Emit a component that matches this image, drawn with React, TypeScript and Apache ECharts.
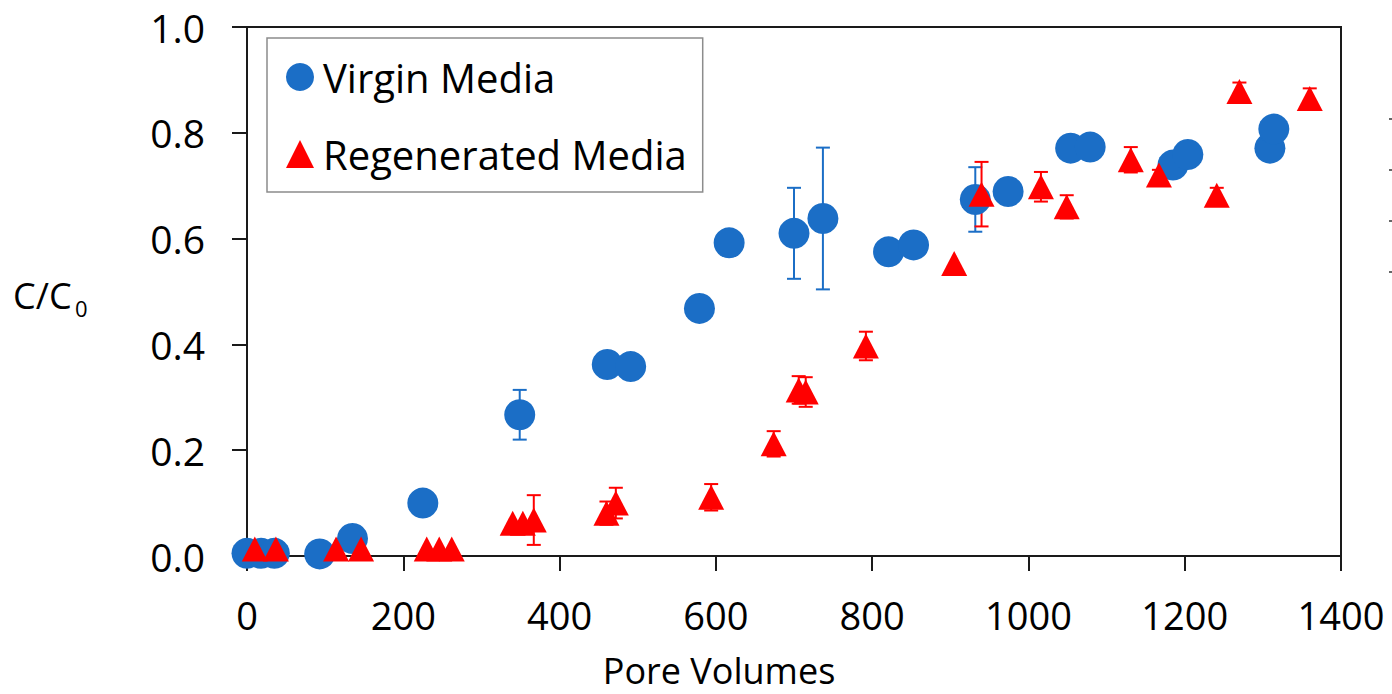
import React, { useEffect, useRef } from "react";
import * as echarts from "echarts";

// Virgin Media (blue circles)
const virginX = [0, 18, 35, 93, 135, 225, 349, 461, 491, 579, 617, 700, 737, 821, 853, 932, 974, 1054, 1079, 1185, 1204, 1309, 1314];
const virginY = [0.005, 0.005, 0.005, 0.004, 0.033, 0.1, 0.267, 0.362, 0.358, 0.468, 0.592, 0.61, 0.638, 0.575, 0.588, 0.674, 0.689, 0.771, 0.773, 0.739, 0.759, 0.771, 0.807];
const virginErr = [0, 0, 0, 0, 0, 0, 0.047, 0, 0, 0, 0, 0.086, 0.134, 0, 0, 0.061, 0, 0, 0, 0, 0, 0, 0];

// Regenerated Media (red triangles)
const regenX = [10, 37, 114, 146, 230, 246, 262, 340, 353, 367, 460, 472, 594, 674, 706, 715, 792, 905, 940, 1016, 1049, 1131, 1167, 1241, 1270, 1360];
const regenY = [0.013, 0.013, 0.013, 0.013, 0.013, 0.013, 0.013, 0.062, 0.062, 0.068, 0.081, 0.1, 0.111, 0.212, 0.314, 0.31, 0.397, 0.553, 0.684, 0.698, 0.66, 0.749, 0.72, 0.682, 0.878, 0.865];
const regenErr = [0, 0, 0, 0, 0, 0, 0, 0, 0, 0.047, 0.022, 0.029, 0.025, 0.024, 0.026, 0.028, 0.027, 0, 0.061, 0.028, 0.022, 0.024, 0.01, 0.014, 0.017, 0.019];

const xTicks = [0, 200, 400, 600, 800, 1000, 1200, 1400];
const yTicks = [0, 0.2, 0.4, 0.6, 0.8, 1.0];

const BLUE = "#1b6ec6";
const RED = "#ff0000";
const FONT = "'Open Sans', 'DejaVu Sans', sans-serif";

function errorSeries(xs: number[], ys: number[], errs: number[], color: string) {
  const data = xs
    .map((x, i) => [x, ys[i] - errs[i], ys[i] + errs[i], errs[i]])
    .filter((d) => d[3] > 0);
  return {
    type: "custom",
    z: 1,
    silent: true,
    data,
    renderItem: (params: any, api: any) => {
      const x = api.value(0);
      const lo = api.coord([x, api.value(1)]);
      const hi = api.coord([x, api.value(2)]);
      const cap = 7;
      const style = { stroke: color, lineWidth: 2 };
      return {
        type: "group",
        children: [
          { type: "line", shape: { x1: lo[0], y1: lo[1], x2: hi[0], y2: hi[1] }, style },
          { type: "line", shape: { x1: hi[0] - cap, y1: hi[1], x2: hi[0] + cap, y2: hi[1] }, style },
          { type: "line", shape: { x1: lo[0] - cap, y1: lo[1], x2: lo[0] + cap, y2: lo[1] }, style },
        ],
      };
    },
  };
}

export default function App() {
  const ref = useRef<HTMLDivElement>(null);
  useEffect(() => {
    if (!ref.current) return;
    const chart = echarts.init(ref.current, undefined, { renderer: "svg" });
    chart.setOption({
      animation: false,
      backgroundColor: "#ffffff",
      grid: {
        left: 247,
        top: 27,
        width: 1094,
        height: 529,
        show: true,
        borderColor: "#1a1a1a",
        borderWidth: 2,
        backgroundColor: "transparent",
      },
      xAxis: {
        type: "value",
        min: xTicks[0],
        max: xTicks[xTicks.length - 1],
        interval: 200,
        splitLine: { show: false },
        axisLine: { show: true, onZero: false, lineStyle: { color: "#1a1a1a", width: 2 } },
        axisTick: { show: true, length: 15, lineStyle: { color: "#1a1a1a", width: 2 } },
        axisLabel: {
          margin: 40,
          fontSize: 38,
          fontFamily: FONT,
          color: "#000",
          formatter: (v: number) => String(v),
        },
      },
      yAxis: {
        type: "value",
        min: yTicks[0],
        max: yTicks[yTicks.length - 1],
        interval: 0.2,
        splitLine: { show: false },
        axisLine: { show: true, onZero: false, lineStyle: { color: "#1a1a1a", width: 2 } },
        axisTick: { show: true, length: 15, lineStyle: { color: "#1a1a1a", width: 2 } },
        axisLabel: {
          margin: 42,
          fontSize: 39,
          fontFamily: FONT,
          color: "#000",
          formatter: (v: number) => v.toFixed(1),
        },
      },
      legend: {
        show: true,
        orient: "vertical",
        left: 267,
        top: 38,
        padding: [19, 16, 18, 19],
        itemWidth: 28,
        itemHeight: 28,
        itemGap: 37,
        borderColor: "#8c8c8c",
        borderWidth: 1.5,
        backgroundColor: "#fff",
        textStyle: {
          fontSize: 40,
          lineHeight: 40,
          fontFamily: FONT,
          color: "#000",
          padding: [0, 0, 0, 4],
        },
        data: ["Virgin Media", "Regenerated Media"],
      },
      series: [
        errorSeries(virginX, virginY, virginErr, BLUE),
        errorSeries(regenX, regenY, regenErr, RED),
        {
          name: "Virgin Media",
          type: "scatter",
          z: 3,
          symbol: "circle",
          symbolSize: 31,
          itemStyle: { color: BLUE, opacity: 1 },
          data: virginX.map((x, i) => [x, virginY[i]]),
        },
        {
          name: "Regenerated Media",
          type: "scatter",
          z: 4,
          symbol: "triangle",
          symbolSize: [26, 25],
          itemStyle: { color: RED, opacity: 1 },
          data: regenX.map((x, i) => [x, regenY[i]]),
        },
      ],
      graphic: [
        {
          type: "text",
          left: 13,
          top: 277,
          style: { text: "C/C", fontSize: 36, fontFamily: FONT, fill: "#000" },
        },
        {
          type: "text",
          left: 75,
          top: 297,
          style: { text: "0", fontSize: 22, fontFamily: FONT, fill: "#000" },
        },
        {
          type: "text",
          x: 719,
          y: 670,
          style: {
            text: "Pore Volumes",
            fontSize: 36,
            lineHeight: 34,
            fontFamily: FONT,
            fill: "#000",
            align: "center",
            verticalAlign: "middle",
          },
        },
        ...[119, 170, 221, 272].map((y) => ({
          type: "line",
          shape: { x1: 1389, y1: y, x2: 1392, y2: y },
          style: { stroke: "#666", lineWidth: 2 },
        })),
      ],
    });
    return () => chart.dispose();
  }, []);
  return (
    <div
      ref={ref}
      style={{ position: "fixed", left: 0, top: 0, width: 1392, height: 694, background: "#fff" }}
    />
  );
}
